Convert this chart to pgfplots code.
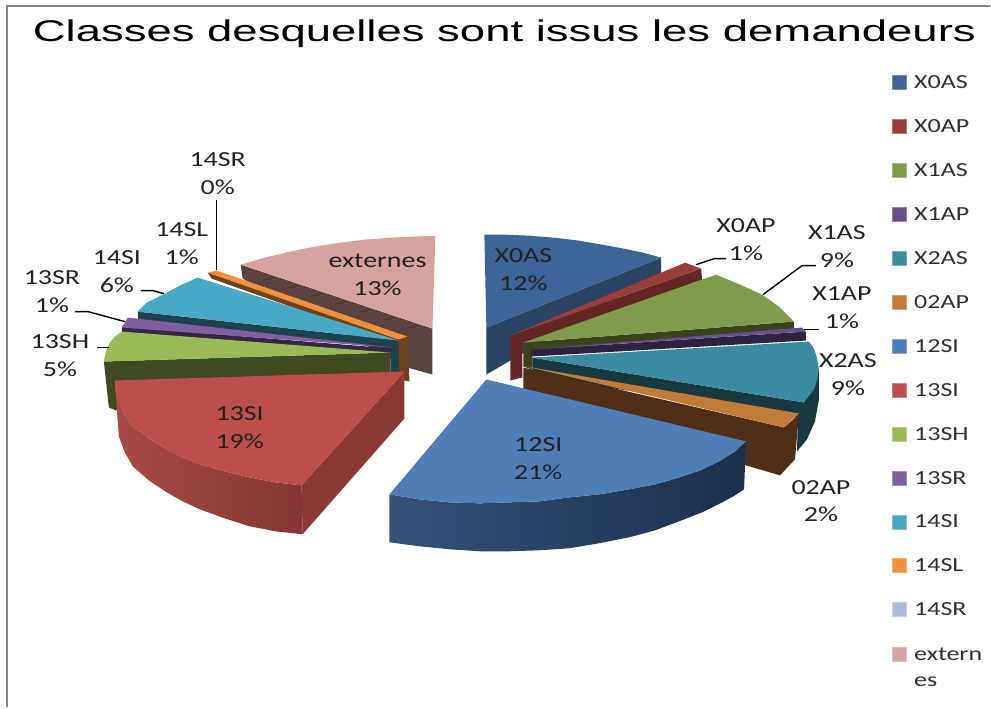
\documentclass[border=0pt]{standalone}
\usepackage{pgfplots}
\pgfplotsset{compat=1.18}
\usepackage{fontspec}
\setmainfont{Carlito}
\newfontfamily\lab[FakeStretch=1.3]{Carlito}
\newfontfamily\ttl[FakeStretch=1.518]{Liberation Sans}
\definecolor{txt}{HTML}{222222}
\definecolor{legtxt}{HTML}{303030}
\definecolor{frm}{HTML}{858585}
\definecolor{extS}{HTML}{594341}\definecolor{extT}{HTML}{D4A3A0}
\definecolor{slS}{HTML}{6F4219}\definecolor{slT}{HTML}{F0903C}
\definecolor{siS}{HTML}{1E434D}\definecolor{siT}{HTML}{47A9C5}
\definecolor{srS}{HTML}{352645}\definecolor{srT}{HTML}{7F5F9F}
\definecolor{shS}{HTML}{3F4A22}\definecolor{shT}{HTML}{9ABA58}
\definecolor{hiL}{HTML}{A84A44}\definecolor{hiR}{HTML}{853735}\definecolor{hiIn}{HTML}{8C3936}\definecolor{hiT}{HTML}{BC4F4B}
\definecolor{xaS}{HTML}{2B4463}\definecolor{xaT}{HTML}{3C6496}
\definecolor{xbS}{HTML}{652726}\definecolor{xbT}{HTML}{9A3D3A}
\definecolor{xcS}{HTML}{3A431E}\definecolor{xcT}{HTML}{7F9A48}
\definecolor{xdS}{HTML}{2E2241}\definecolor{xdT}{HTML}{67508A}
\definecolor{xeS}{HTML}{17393F}\definecolor{xeT}{HTML}{3A8AA0}
\definecolor{apS}{HTML}{4F2F17}\definecolor{apT}{HTML}{C27B36}
\definecolor{bsL}{HTML}{34527A}\definecolor{bsR}{HTML}{1B2F4B}\definecolor{bsT}{HTML}{4E7DB7}
\definecolor{rrT}{HTML}{AABBD8}
\tikzset{lbl/.style={font=\lab\fontsize{21.5}{27.5}\selectfont,text=txt,align=center,inner sep=0pt,anchor=center}}
\pgfplotsset{lead/.style={black,line width=1.4pt,forget plot},
 f/.style={draw=none,fill=#1,forget plot}}
\begin{document}
\begin{tikzpicture}
\begin{axis}[at={(0,0)},anchor=south west,width=991pt,height=708pt,scale only axis,
 xmin=0,xmax=991,ymin=0,ymax=708,y dir=reverse,hide axis,clip=false,
 legend style={at={(axis cs:893,74)},anchor=north west,draw=none,fill=none,
   font=\lab\fontsize{20}{26}\selectfont,text=legtxt,row sep=25.5pt,inner sep=0pt,outer sep=0pt},
 legend cell align=left,
 legend image code/.code={\draw[#1] (0pt,-6.5pt) rectangle (14.5pt,7.5pt);\path (20pt,0pt);}
]
% frame
\addplot[frm,line width=2.6pt,forget plot] coordinates {(7,708)(7,6)};
\addplot[frm,line width=2.6pt,forget plot] coordinates {(5.7,6)(991,6)};
% ---------- externes
\addplot[f=extS] coordinates {(241,265)(433,329)(433,375)(408,368)(243,279)} --cycle;
\addplot[f=extT] coordinates {(241,265)(265,258)(290,252)(315,247)(340,243)(365,240)(390,238)(413,237)(436,236)(433,329)} --cycle;
% ---------- 14SL
\addplot[f=slS] coordinates {(208,273)(408,337)(410,382)(400,380)(398,345)(212,279)} --cycle;
\addplot[f=slT] coordinates {(208,273)(217,271)(408,337)(399,340)} --cycle;
% ---------- 14SI
\addplot[f=siS] coordinates {(138,312)(399,341)(400,377)(391,377)(391,349)(138,320)} --cycle;
\addplot[f=siT] coordinates {(198,278)(182,285)(167,293)(157,298)(147,303)(138,312)(399,341)} --cycle;
% ---------- 13SR
\addplot[f=srS] coordinates {(122,327)(393,349)(391,354)(122,333)} --cycle;
\addplot[f=srT] coordinates {(128,318)(393,348)(122,328)} --cycle;
% ---------- 13SH
\addplot[f=shS] coordinates {(104,362)(391,353)(391,377)(116,411)(109,408)} --cycle;
\addplot[f=shT] coordinates {(122,332)(115,337)(110,343)(106,352)(104,362)(391,353)} --cycle;
% ---------- 13SI
\addplot[draw=none,forget plot,left color=hiL,right color=hiR] coordinates {(115,381)(117,400)(124,414)(133,427)(149,439)(167,450)(183,458)(200,465)(225,472)(250,478)(276,483)(302,486)(303,535)(276,532)(250,527)(225,519)(200,510)(183,502)(167,493)(149,481)(133,467)(125,453)(119,437)} --cycle;
\addplot[f=hiIn] coordinates {(405,372)(302,486)(303,535)(405,419)} --cycle;
\addplot[f=hiT] coordinates {(405,372)(115,381)(115.5,391)(117,400)(124,414)(133,427)(149,439)(167,450)(183,458)(200,465)(225,472)(250,478)(276,483)(302,486)} --cycle;
% ---------- X0AS
\addplot[f=xaS] coordinates {(487,328)(662,258)(662,273)(487,375)} --cycle;
\addplot[f=xaT] coordinates {(485,235)(507,235)(530,236)(555,238)(580,241)(603,245)(625,249)(644,253)(662,258)(487,328)} --cycle;
% ---------- X0AP
\addplot[f=xbS] coordinates {(511,336)(702,269)(703,280)(523,345)(523,378)(511,381)} --cycle;
\addplot[f=xbT] coordinates {(511,336)(686,263)(702,269)} --cycle;
% ---------- X1AS
\addplot[f=xcS] coordinates {(524,343)(795,322)(795,329)(533,351)(533,370)(524,367)} --cycle;
\addplot[f=xcT] coordinates {(524,343)(717,275)(741,285)(763,295)(780,307)(795,322)} --cycle;
% ---------- X1AP
\addplot[f=xdS] coordinates {(532,350)(807,332)(807,341)(532,357)} --cycle;
\addplot[f=xdT] coordinates {(532,350)(803,328)(807,332)} --cycle;
% ---------- X2AS
\addplot[f=xeS] coordinates {(820,370)(805,403)(533,358)(533,376)(799,418)(798,452)(808,440)(816,422)(820,400)} --cycle;
\addplot[f=xeT] coordinates {(533,358)(810,342)(815,349)(818,358)(820,370)(818,381)(815,390)(805,403)} --cycle;
% ---------- 02AP
\addplot[f=apS] coordinates {(524,368)(785,428)(800,415)(796,460)(781,476)(524,400)} --cycle;
\addplot[f=apT] coordinates {(527,367)(800,414)(785,428)} --cycle;
% ---------- 12SI
\addplot[draw=none,forget plot,left color=bsL,right color=bsR] coordinates {(390,495)(420,500)(450,503)(480,504)(510,503)(540,502)(570,498)(600,495)(630,490)(656,485)(680,478)(701,471)(720,462)(735,453)(747,442)(745,490)(736,496)(725,502)(703,513)(680,522)(656,531)(630,538)(600,544)(570,549)(540,551)(510,552)(480,552)(450,550)(420,547)(390,543)} --cycle;
\addplot[f=bsT] coordinates {(487,380)(747,442)(735,453)(720,462)(701,471)(680,478)(656,485)(630,490)(600,495)(570,498)(540,502)(510,503)(480,504)(450,503)(420,500)(390,495)} --cycle;
% ---------- leaders
\addplot[lead] coordinates {(217,200)(217,270)};
\addplot[lead] coordinates {(141,291)(153,291)(164,294)};
\addplot[lead] coordinates {(75,312)(88,312)(125,322)};
\addplot[lead] coordinates {(97,348)(109,348)};
\addplot[lead] coordinates {(727,259)(715,259)(697,265)};
\addplot[lead] coordinates {(817,266)(803,266)(764,295)};
\addplot[lead] coordinates {(820,330)(805,330)};
% ---------- labels
\node[lbl] at (axis cs:218,174) {14SR\\0\%};
\node[lbl] at (axis cs:182,244) {14SL\\1\%};
\node[lbl] at (axis cs:117,272) {14SI\\6\%};
\node[lbl] at (axis cs:52,292) {13SR\\1\%};
\node[lbl] at (axis cs:60,356) {13SH\\5\%};
\node[lbl] at (axis cs:378,275) {externes\\13\%};
\node[lbl] at (axis cs:240,428) {13SI\\19\%};
\node[lbl] at (axis cs:539,459) {12SI\\21\%};
\node[lbl] at (axis cs:524,270) {X0AS\\12\%};
\node[lbl] at (axis cs:747,240) {X0AP\\1\%};
\node[lbl] at (axis cs:838,247) {X1AS\\9\%};
\node[lbl] at (axis cs:843,308) {X1AP\\1\%};
\node[lbl] at (axis cs:849,375) {X2AS\\9\%};
\node[lbl] at (axis cs:822,502) {02AP\\2\%};
\node[font=\ttl\fontsize{30}{30}\selectfont,text=black,inner sep=0pt,anchor=base] at (axis cs:505,42) {Classes desquelles sont issus les demandeurs};
% ---------- legend
\addlegendimage{fill=xaT,draw=xaT!70!white}\addlegendentry{X0AS}
\addlegendimage{fill=xbT,draw=xbT!70!white}\addlegendentry{X0AP}
\addlegendimage{fill=xcT,draw=xcT!70!white}\addlegendentry{X1AS}
\addlegendimage{fill=xdT,draw=xdT!70!white}\addlegendentry{X1AP}
\addlegendimage{fill=xeT,draw=xeT!70!white}\addlegendentry{X2AS}
\addlegendimage{fill=apT,draw=apT!70!white}\addlegendentry{02AP}
\addlegendimage{fill=bsT,draw=bsT!70!white}\addlegendentry{12SI}
\addlegendimage{fill=hiT,draw=hiT!70!white}\addlegendentry{13SI}
\addlegendimage{fill=shT,draw=shT!70!white}\addlegendentry{13SH}
\addlegendimage{fill=srT,draw=srT!70!white}\addlegendentry{13SR}
\addlegendimage{fill=siT,draw=siT!70!white}\addlegendentry{14SI}
\addlegendimage{fill=slT,draw=slT!70!white}\addlegendentry{14SL}
\addlegendimage{fill=rrT,draw=rrT!70!white}\addlegendentry{14SR}
\addlegendimage{fill=extT,draw=extT!70!white}\addlegendentry{\raisebox{0pt}[13.5pt][0pt]{\begin{tabular}[t]{@{}l@{}}extern\\es\end{tabular}}}
\end{axis}
\path[use as bounding box] (0,0) rectangle (991pt,708pt);
\end{tikzpicture}
\end{document}
